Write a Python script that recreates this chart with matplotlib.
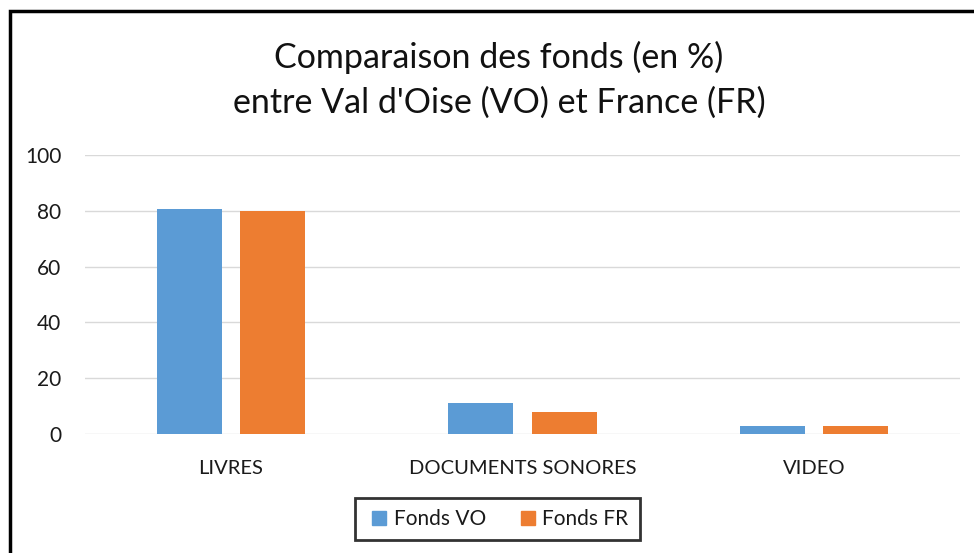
import numpy as np
import matplotlib
matplotlib.use('Agg')
import matplotlib.pyplot as plt
from matplotlib.patches import Rectangle
from matplotlib.lines import Line2D

categories = ["LIVRES", "DOCUMENTS SONORES", "VIDEO"]
fonds_vo = [80.5, 11.0, 2.8]
fonds_fr = [80.0, 7.8, 2.8]
series_names = ["Fonds VO", "Fonds FR"]
colors = ["#5B9BD5", "#ED7D31"]

plt.rcParams['font.family'] = ['Lato', 'DejaVu Sans']

W, H = 974, 553
fig = plt.figure(figsize=(W / 100, H / 100), dpi=100)

# plot area in pixel coords
x0, x1, y_top, y_bot = 85, 960, 155, 434
ax = fig.add_axes([x0 / W, 1 - y_bot / H, (x1 - x0) / W, (y_bot - y_top) / H])

x = np.arange(len(categories))
bw = 0.223
gap = 0.062
ax.bar(x - (bw + gap) / 2, fonds_vo, width=bw, color=colors[0], zorder=3)
ax.bar(x + (bw + gap) / 2, fonds_fr, width=bw, color=colors[1], zorder=3)

ax.set_xlim(-0.5, len(categories) - 0.5)
ax.set_ylim(0, 100)
ax.set_yticks(np.arange(0, 101, 20))
ax.set_xticks(x)
ax.set_xticklabels(categories, fontsize=14.5, color="#1a1a1a")
ax.tick_params(axis='y', labelsize=15, colors="#1a1a1a", length=0, pad=17)
ax.tick_params(axis='x', length=0, pad=19)
ax.yaxis.grid(True, color="#D9D9D9", linewidth=1, zorder=0)
for s in ax.spines.values():
    s.set_visible(False)

title_x = 499 / W
fig.text(title_x, 1 - 57 / H, "Comparaison des fonds (en %)", ha='center', va='center',
         fontsize=24.5, color="#111111")
fig.text(title_x, 1 - 103 / H, "entre Val d'Oise (VO) et France (FR)", ha='center', va='center',
         fontsize=24.5, color="#111111")

# outer frame, cropped at right and bottom like the screenshot
fig.patches.append(Rectangle((10 / W, -0.05), 1.0, 1 - 11 / H + 0.05,
                             transform=fig.transFigure, fill=False,
                             edgecolor='black', linewidth=2.5))

handles = [Line2D([], [], marker='s', linestyle='', markersize=10,
                  markerfacecolor=c, markeredgecolor=c) for c in colors]
leg = fig.legend(handles, series_names, loc='center',
                 bbox_to_anchor=(497.5 / W, 1 - 519 / H), ncol=2,
                 fontsize=15, frameon=True, fancybox=False,
                 handletextpad=0.1, columnspacing=1.4, borderpad=0.55,
                 handlelength=1.2)
leg.get_frame().set_edgecolor('black')
leg.get_frame().set_linewidth(2)
for t in leg.get_texts():
    t.set_color("#1a1a1a")

fig.savefig("out.png", dpi=100)
